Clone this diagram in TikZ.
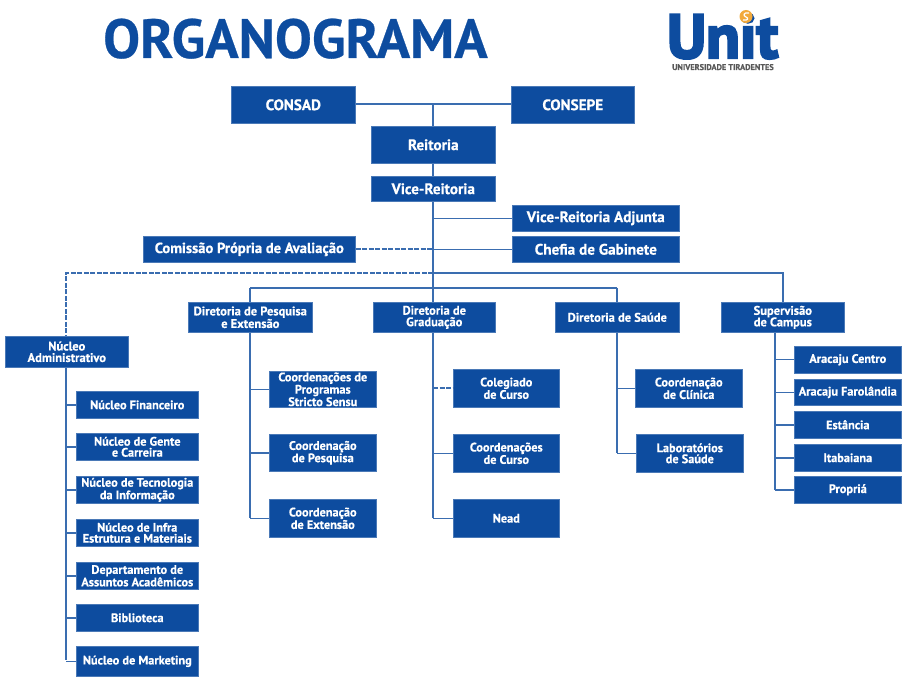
\documentclass[tikz,border=0pt]{standalone}
\usepackage{fontspec}
\setmainfont[BoldFeatures={FakeBold=0.5}]{PT Sans}
\newfontfamily\logofont[BoldFeatures={FakeBold=4}]{PT Sans}
\definecolor{unitblue}{HTML}{0D4C9F}
\definecolor{linkblue}{HTML}{3A6DB0}
\definecolor{sunorange}{HTML}{F2A93B}
\tikzset{
  orgbox/.style={fill=unitblue,draw=unitblue!75!white,line width=0.6pt,text=white,font=\bfseries,
    align=center,inner sep=0pt,anchor=north west},
  bigtext/.style={font=\bfseries\fontsize{15.2}{15}\selectfont},
  widetext/.style={font=\bfseries\fontsize{14.6}{15}\selectfont},
  midtext/.style={font=\bfseries\fontsize{12.5}{11.5}\selectfont},
  smalltext/.style={font=\bfseries\fontsize{12.3}{11}\selectfont},
  link/.style={draw=linkblue,line width=1.4pt},
  dashlink/.style={link,line width=1.6pt,dash pattern=on 5pt off 1.5pt}
}
% Box given by its pixel corners: name, x0, y0, x1, y1, style, text
\newcommand{\orgnode}[7]{%
  \pgfmathsetmacro{\bw}{(#4-#2)*1}%
  \pgfmathsetmacro{\bh}{(#5-#3)*1}%
  \node[orgbox,#6,minimum width=\bw pt,minimum height=\bh pt] (#1) at (#2,#3) {#7};%
}
\begin{document}
\begin{tikzpicture}[x=1pt,y=-1pt]
\useasboundingbox (0,0) rectangle (906,679);

% Title and university mark
\node[anchor=base west,inner sep=0pt,text=unitblue,font=\bfseries\fontsize{55.2}{55}\selectfont] (title) at (103,58) {ORGANOGRAMA};
\node[anchor=base west,inner sep=0pt,text=unitblue,font=\logofont\bfseries\fontsize{62}{62}\selectfont] (logo) at (667,58) {Unit};
\node[anchor=base,inner sep=0pt,text=black!65,font=\bfseries\fontsize{8.3}{8}\selectfont] (logotext) at (723,70) {UNIVERSIDADE TIRADENTES};
\fill[sunorange] (746,16.5) circle (6.5pt);
\draw[white,line width=1.2pt] (749,13) .. controls (743,12) and (743,16) .. (746,17) .. controls (749,18) and (748,21) .. (743,20);

% Governing level
\orgnode{consad}{231}{86}{355}{123}{bigtext}{CONSAD}
\orgnode{consepe}{511}{86}{634}{123}{bigtext}{CONSEPE}
\orgnode{reitoria}{371}{126}{495}{163}{bigtext}{Reitoria}
\orgnode{vice}{371}{176}{495}{201}{bigtext}{Vice-Reitoria}
\orgnode{adjunta}{512}{205}{679}{231}{bigtext}{Vice-Reitoria Adjunta}
\orgnode{chefia}{512}{236}{679}{262}{bigtext}{Chefia de Gabinete}
\orgnode{cpa}{143}{236}{355}{262}{widetext}{Comissão Própria de Avaliação}

% Directorates
\orgnode{pesq}{188}{302}{312}{332}{midtext}{Diretoria de Pesquisa\\e Extensão}
\orgnode{grad}{373}{302}{495}{332}{midtext}{Diretoria de\\Graduação}
\orgnode{saude}{555}{302}{679}{332}{midtext}{Diretoria de Saúde}
\orgnode{sup}{721}{302}{844}{332}{midtext}{Supervisão\\de Campus}
\orgnode{adm}{5}{336}{128}{367}{midtext}{Núcleo\\Administrativo}

% Administrative units
\orgnode{fin}{76}{391}{198}{418}{smalltext}{Núcleo Financeiro}
\orgnode{gente}{76}{433}{198}{460}{smalltext}{Núcleo de Gente\\e Carreira}
\orgnode{tec}{76}{476}{198}{503}{smalltext}{Núcleo de Tecnologia\\da Informação}
\orgnode{infra}{76}{519}{198}{546}{smalltext}{Núcleo de Infra\\Estrutura e  Materiais}
\orgnode{depto}{76}{562}{198}{589}{smalltext}{Departamento de\\Assuntos Acadêmicos}
\orgnode{bib}{76}{604}{198}{631}{smalltext}{Biblioteca}
\orgnode{mkt}{76}{646}{198}{676}{smalltext}{Núcleo de Marketing}

% Research units
\orgnode{prog}{269}{371}{376}{407}{smalltext}{Coordenações de\\Programas\\Stricto Sensu}
\orgnode{cpesq}{269}{434}{376}{471}{smalltext}{Coordenação\\de Pesquisa}
\orgnode{cext}{269}{499}{376}{537}{smalltext}{Coordenação\\de Extensão}

% Undergraduate units
\orgnode{coleg}{453}{369}{559}{407}{smalltext}{Colegiado\\de Curso}
\orgnode{ccurso}{453}{434}{559}{472}{smalltext}{Coordenações\\de Curso}
\orgnode{nead}{453}{499}{559}{537}{smalltext}{Nead}

% Health units
\orgnode{clin}{635}{369}{742}{407}{smalltext}{Coordenação\\de Clínica}
\orgnode{lab}{636}{434}{743}{472}{smalltext}{Laboratórios\\de Saúde}

% Campuses
\orgnode{centro}{794}{346}{901}{373}{smalltext}{Aracaju Centro}
\orgnode{farol}{794}{379}{901}{405}{smalltext}{Aracaju Farolândia}
\orgnode{estancia}{794}{411}{901}{438}{smalltext}{Estância}
\orgnode{itab}{794}{444}{901}{471}{smalltext}{Itabaiana}
\orgnode{propria}{794}{476}{901}{503}{smalltext}{Propriá}

% Junction points of the trunk lines
\coordinate (top) at (433,104);
\coordinate (busA) at (433,273);
\coordinate (busB) at (433,288);
\coordinate (admCorner) at (66,273);
\coordinate (supCorner) at (783,273);
\coordinate (pesqCorner) at (250,288);
\coordinate (saudeCorner) at (617,288);
\coordinate (admEnd) at (66,660);
\coordinate (pesqEnd) at (250,518);
\coordinate (gradEnd) at (433,518);
\coordinate (saudeEnd) at (617,453);
\coordinate (supEnd) at (775,490);

% Upper trunk
\draw[link] (consad.east |- top) -- (consepe.west |- top);
\draw[link] (top) -- (top |- reitoria.north);
\draw[link] (top |- reitoria.south) -- (top |- vice.north);
\draw[link] (top |- vice.south) -- (top |- grad.north);
\draw[link] (top |- adjunta.west) -- (adjunta.west);
\draw[link] (top |- chefia.west) -- (chefia.west);
\draw[dashlink] (cpa.east) -- (top |- cpa.east);

% Horizontal buses
\draw[link] (busA) -- (supCorner) -- (supCorner |- sup.north);
\draw[link] (pesqCorner) -- (saudeCorner);
\draw[link] (pesqCorner) -- (pesqCorner |- pesq.north);
\draw[link] (saudeCorner) -- (saudeCorner |- saude.north);
\draw[dashlink] (busA) -- (admCorner) -- (admCorner |- adm.north);

% Administrative branch
\draw[link] (admCorner |- adm.south) -- (admEnd);
\foreach \n in {fin,gente,tec,infra,depto,bib,mkt}
  \draw[link] (admCorner |- \n.west) -- (\n.west);

% Research branch
\draw[link] (pesqCorner |- pesq.south) -- (pesqEnd);
\foreach \n in {prog,cpesq,cext}
  \draw[link] (pesqCorner |- \n.west) -- (\n.west);

% Undergraduate branch
\draw[link] (top |- grad.south) -- (gradEnd);
\draw[dashlink] (top |- coleg.west) -- (coleg.west);
\foreach \n in {ccurso,nead}
  \draw[link] (top |- \n.west) -- (\n.west);

% Health branch
\draw[link] (saudeCorner |- saude.south) -- (saudeEnd);
\foreach \n in {clin,lab}
  \draw[link] (saudeCorner |- \n.west) -- (\n.west);

% Campus branch
\draw[link] (supEnd |- sup.south) -- (supEnd);
\foreach \n in {centro,farol,estancia,itab,propria}
  \draw[link] (supEnd |- \n.west) -- (\n.west);
\end{tikzpicture}
\end{document}
